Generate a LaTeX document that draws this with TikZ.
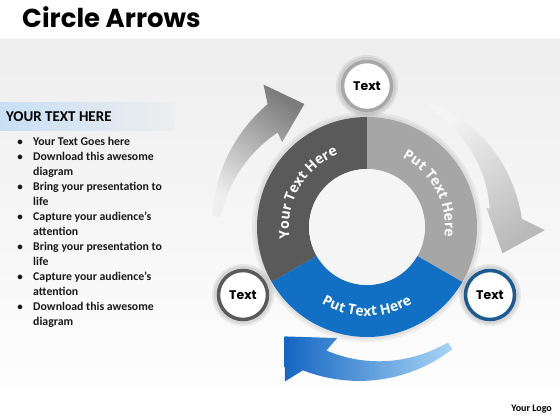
\documentclass[tikz,border=0pt]{standalone}
\usepackage{fontspec}
\setmainfont{Carlito}
\newfontfamily\popfont{Poppins}
\newfontfamily\ringfont{Open Sans}
\usetikzlibrary{decorations.text}
\definecolor{segdark}{HTML}{5A5A5A}
\definecolor{seglight}{HTML}{A6A6A6}
\definecolor{segblue}{HTML}{1170C4}
\definecolor{bgtop}{HTML}{EEEEEE}
\definecolor{bandblue}{HTML}{C8DFF5}
\definecolor{arrdark}{HTML}{7C7C7C}
\definecolor{arrlight}{HTML}{EFEFEF}
\definecolor{arrmid}{HTML}{B9B9B9}
\definecolor{arrpale}{HTML}{F4F4F4}
\definecolor{bluedark}{HTML}{1466C2}
\definecolor{bluepale}{HTML}{A9D5F6}
\definecolor{ringtop}{HTML}{A8A8A8}
\definecolor{ringleft}{HTML}{5A5A5A}
\definecolor{ringright}{HTML}{1D5A92}
\tikzset{
  txtcircle/.style={circle, fill=white, line width=3.5pt, minimum size=49pt, inner sep=0pt,
    font=\popfont\bfseries\fontsize{12.5}{12.5}\selectfont, text=black},
  bulline/.style={anchor=base west, inner sep=0pt, font=\bfseries\fontsize{11.8}{13}\selectfont, text=black!90},
  bulmark/.style={anchor=base, inner sep=0pt, font=\bfseries\fontsize{11}{12}\selectfont, text=black!90},
  ringtext/.style={decorate, decoration={text along path, text align=center, text color=white,
    text={|\ringfont\bfseries\fontsize{14}{14}\selectfont|#1}}}
}
\begin{document}
\begin{tikzpicture}[x=1pt,y=1pt]
\useasboundingbox (0,0) rectangle (560,420);
% background
\fill[white] (0,0) rectangle (560,420);
\shade[top color=bgtop, bottom color=white] (0,0) rectangle (560,380);
\shade[left color=bandblue, right color=bgtop] (0,289) rectangle (175,317);

% title
\node[anchor=base west, inner sep=0pt] (title) at (22,392) {\popfont\bfseries\fontsize{26}{26}\selectfont Circle Arrows};

% left panel
\node[anchor=base west, inner sep=0pt] (head) at (6,298) {\bfseries\fontsize{15}{15}\selectfont YOUR TEXT HERE};
\foreach \txt [count=\i] in {Your Text Goes here, Download this awesome, diagram,
  Bring your presentation to, life, Capture your audience’s, attention,
  Bring your presentation to, life, Capture your audience’s, attention,
  Download this awesome, diagram}{
  \node[bulline] (l\i) at (33,{274-15*(\i-1)}) {\txt};
}
\foreach \k in {1,2,4,6,8,10,12}{
  \node[bulmark] (m\k) at (20,{274-15*(\k-1)}) {•};
}
\node[anchor=base east, inner sep=0pt, font=\bfseries\fontsize{10}{10}\selectfont] (logo) at (552,8) {Your Logo};

\begin{scope}[shift={(367,193)}]
% curved arrows
\shade[top color=arrdark, bottom color=arrlight, shading angle=-35]
  (176:155) -- plot[domain=176:129, samples=30] (\x:{155+3*(176-\x)/47})
  -- (126:176) -- (117:138) -- (135:120) -- (133.4:130)
  -- plot[domain=133.4:176, samples=30] (\x:{130+17*(\x-133.4)/42.6}) -- cycle;
\shade[top color=arrpale, bottom color=arrmid, shading angle=35]
  (63:140) -- plot[domain=63:3, samples=30] (\x:{140+15*(63-\x)/60})
  -- (-1:178) -- (-11:138) -- (9:121) -- (8.5:124)
  -- plot[domain=8.5:63, samples=30] (\x:{124+10*(\x-8.5)/54.5}) -- cycle;
\shade[left color=bluedark, middle color=bluedark!80!bluepale, right color=bluepale]
  (305:149) -- plot[domain=305:245.9, samples=30] (\x:{149+8*(305-\x)/59.1})
  -- (242:175) -- (233:137) -- (255:115) -- (251.8:130)
  -- plot[domain=251.8:305, samples=30] (\x:{130+11*(\x-251.8)/53.2}) -- cycle;

% ring glow
\fill[black, opacity=0.05] (0,0) circle[radius=115pt];
\fill[black, opacity=0.05] (0,0) circle[radius=112.5pt];
% ring segments
\fill[segdark] (90:110pt) arc[start angle=90, end angle=210, radius=110pt]
  -- (210:58pt) arc[start angle=210, end angle=90, radius=58pt] -- cycle;
\fill[seglight] (-30:110pt) arc[start angle=-30, end angle=90, radius=110pt]
  -- (90:58pt) arc[start angle=90, end angle=-30, radius=58pt] -- cycle;
\fill[segblue] (210:110pt) arc[start angle=210, end angle=330, radius=110pt]
  -- (330:58pt) arc[start angle=330, end angle=210, radius=58pt] -- cycle;
\fill[bgtop!60!white] (0,0) circle[radius=58pt];
% ring texts
\path[ringtext={Your Text Here}] (200:78pt) arc[start angle=200, end angle=100, radius=78pt];
\path[ringtext={Put Text Here}] (78:78pt) arc[start angle=78, end angle=-22, radius=78pt];
\path[ringtext={Put Text Here}] (222:89pt) arc[start angle=222, end angle=318, radius=89pt];
\end{scope}

% text circles
\foreach \p in {(367,334),(243,125),(490,125)}{
  \fill[black, opacity=0.07] \p circle[radius=31pt];
  \fill[black, opacity=0.07] \p circle[radius=29pt];
}
\node[txtcircle, draw=ringtop] (ctop) at (367,334) {Text};
\node[txtcircle, draw=ringleft] (cleft) at (243,125) {Text};
\node[txtcircle, draw=ringright] (cright) at (490,125) {Text};
\end{tikzpicture}
\end{document}
